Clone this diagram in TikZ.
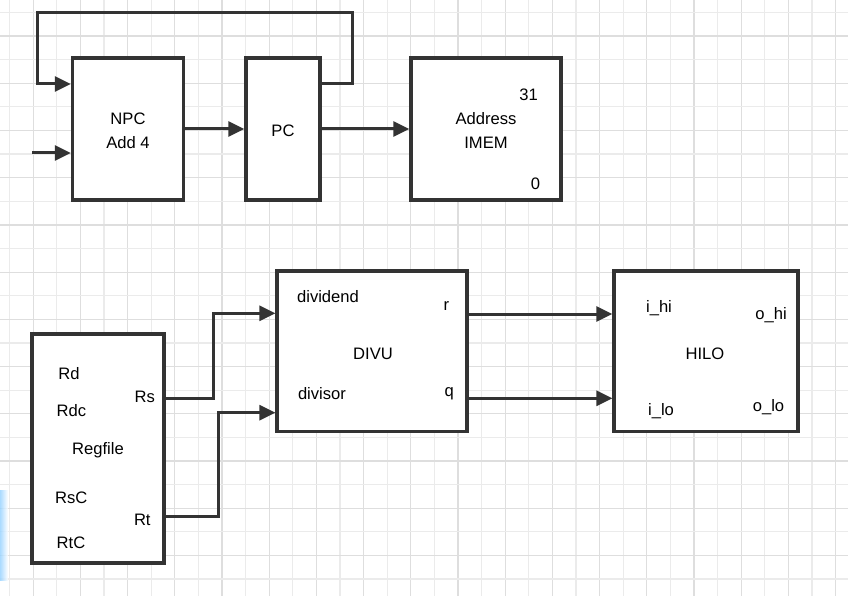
\documentclass[tikz,border=0pt]{standalone}
\usepackage{fontspec}
\setmainfont{Liberation Sans}
\usetikzlibrary{arrows.meta,calc}
\definecolor{ln}{HTML}{333333}
\definecolor{gminor}{HTML}{EBEBEB}
\definecolor{gmajor}{HTML}{DEDEDE}
\tikzset{
  blk/.style={draw=ln, line width=3.3pt, fill=white, inner sep=0pt},
  lbl/.style={inner sep=0pt, font=\fontsize{16.6}{19}\selectfont, text=black},
  arr/.style={draw=ln, line width=3pt, -{Triangle[length=16pt,width=15pt]}},
  wire/.style={draw=ln, line width=3pt}
}
\begin{document}
\begin{tikzpicture}[x=1pt,y=-1pt]
\useasboundingbox (0,0) rectangle (848,596);
\fill[white] (0,0) rectangle (848,596);
% grid
\foreach \i in {0,...,35} {
  \pgfmathsetmacro\xx{9.5+23.6*\i}
  \pgfmathtruncatemacro\odd{mod(\i,2)}
  \ifnum\odd=1 \draw[gmajor,line width=1.2pt] (\xx,0) -- (\xx,596);
  \else \draw[gminor,line width=1.2pt] (\xx,0) -- (\xx,596); \fi
}
\foreach \i in {0,...,25} {
  \pgfmathsetmacro\yy{12.5+23.6*\i}
  \pgfmathtruncatemacro\odd{mod(\i,2)}
  \ifnum\odd=1 \draw[gmajor,line width=1.2pt] (0,\yy) -- (848,\yy);
  \else \draw[gminor,line width=1.2pt] (0,\yy) -- (848,\yy); \fi
}
% blue glow at left edge
\shade[left color={rgb,255:red,150;green,210;blue,255}, right color=white, opacity=0.8] (0,490) rectangle (8,580);

% top row
\node[blk, minimum width=111pt, minimum height=142pt] (npc) at (128,129) {};
\node[blk, minimum width=74pt, minimum height=142pt] (pc) at (283,129) {};
\node[blk, minimum width=150pt, minimum height=142pt] (imem) at (486,129) {};
\node[lbl] (tnpc) at (128,119) {NPC};
\node[lbl] (tadd) at (128,143) {Add 4};
\node[lbl] (tpc) at (283,131) {PC};
\node[lbl] (t31) at (528.5,94.5) {31};
\node[lbl] (taddr) at (486,119) {Address};
\node[lbl] (timem) at (486,143) {IMEM};
\node[lbl] (t0) at (535.5,184) {0};

\coordinate (inp) at (32,153);
\coordinate (fbr) at (352,12.5);
\coordinate (fbl) at (37,12.5);
\draw[arr] (npc) -- (pc);
\draw[arr] (pc) -- (imem);
\draw[arr] (inp) -- (inp -| npc.west);
\draw[arr] ([yshift=45pt]pc.east) -| (fbr) -- (fbl) |- ([yshift=45pt]npc.west);

% bottom row
\node[blk, minimum width=132pt, minimum height=229pt] (reg) at (98,448.5) {};
\node[blk, minimum width=190pt, minimum height=160.5pt] (divu) at (372,351.3) {};
\node[blk, minimum width=184pt, minimum height=160.5pt] (hilo) at (706,351.3) {};

\node[lbl] (trd) at (69,373.5) {Rd};
\node[lbl] (trdc) at (71.3,410.5) {Rdc};
\node[lbl] (treg) at (98,450.5) {Regfile};
\node[lbl] (trsc) at (71.3,497.3) {RsC};
\node[lbl] (trtc) at (71,542.3) {RtC};
\node[lbl] (trs) at (144.7,396.7) {Rs};
\node[lbl] (trt) at (142.3,520) {Rt};

\node[lbl] (tdvd) at (328,296.7) {dividend};
\node[lbl] (tr) at (446.5,306.5) {r};
\node[lbl] (tdivu) at (373,353.5) {DIVU};
\node[lbl] (tdvs) at (322,394) {divisor};
\node[lbl] (tq) at (449.3,394) {q};

\node[lbl] (tih) at (659,308) {i\_hi};
\node[lbl] (toh) at (771,315) {o\_hi};
\node[lbl] (thilo) at (705,353.3) {HILO};
\node[lbl] (til) at (661,411) {i\_lo};
\node[lbl] (tol) at (768.5,407) {o\_lo};

\coordinate (rsy) at (0,398);
\coordinate (rty) at (0,516);
\coordinate (dvdy) at (0,313.3);
\coordinate (dvsy) at (0,412.7);
\coordinate (ry) at (0,314);
\coordinate (qy) at (0,398.3);
\coordinate (rsk) at (213,0);
\coordinate (rtk) at (218,0);

\draw[arr] (reg.east |- rsy) -- (rsk |- rsy) -- (rsk |- dvdy) -- (divu.west |- dvdy);
\draw[arr] (reg.east |- rty) -- (rtk |- rty) -- (rtk |- dvsy) -- (divu.west |- dvsy);
\draw[arr] (divu.east |- ry) -- (hilo.west |- ry);
\draw[arr] (divu.east |- qy) -- (hilo.west |- qy);
\end{tikzpicture}
\end{document}
